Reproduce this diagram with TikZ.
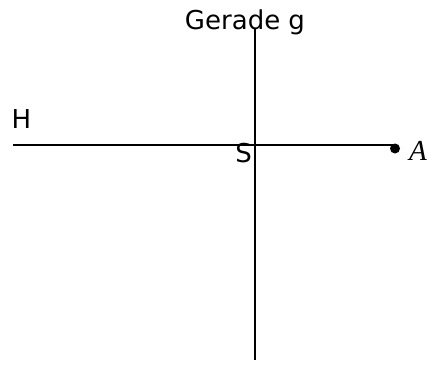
\documentclass[tikz,border=0pt]{standalone}
\usepackage{fontspec}
\setmainfont{DejaVu Sans}
\newfontfamily\serifA{Liberation Serif}
\begin{document}
\begin{tikzpicture}[x=1pt,y=-1pt,
  lbl/.style={inner sep=0pt,outer sep=0pt,font=\fontsize{26}{30}\selectfont},
  ln/.style={line width=1.8pt,black}]
\useasboundingbox (0,0) rectangle (430,364);
\coordinate (gtop) at (255,29);
\coordinate (gbot) at (255,360);
\coordinate (hl) at (13,145);
\coordinate (hr) at (394,145);
\draw[ln] (gtop) -- (gbot);
\draw[ln] (hl) -- (hr);
\node[circle,fill=black,minimum size=10pt,inner sep=0pt] (A) at (395,148.5) {};
\node[lbl,anchor=base] (g) at (245,29) {Gerade g};
\node[lbl,anchor=base west] (H) at (11.5,128) {H};
\node[lbl,anchor=base] (S) at (243.5,162.5) {S};
\node[lbl,anchor=base west,font=\fontsize{29}{33}\selectfont\serifA\itshape] (Al) at (409,160) {A};
\end{tikzpicture}
\end{document}
